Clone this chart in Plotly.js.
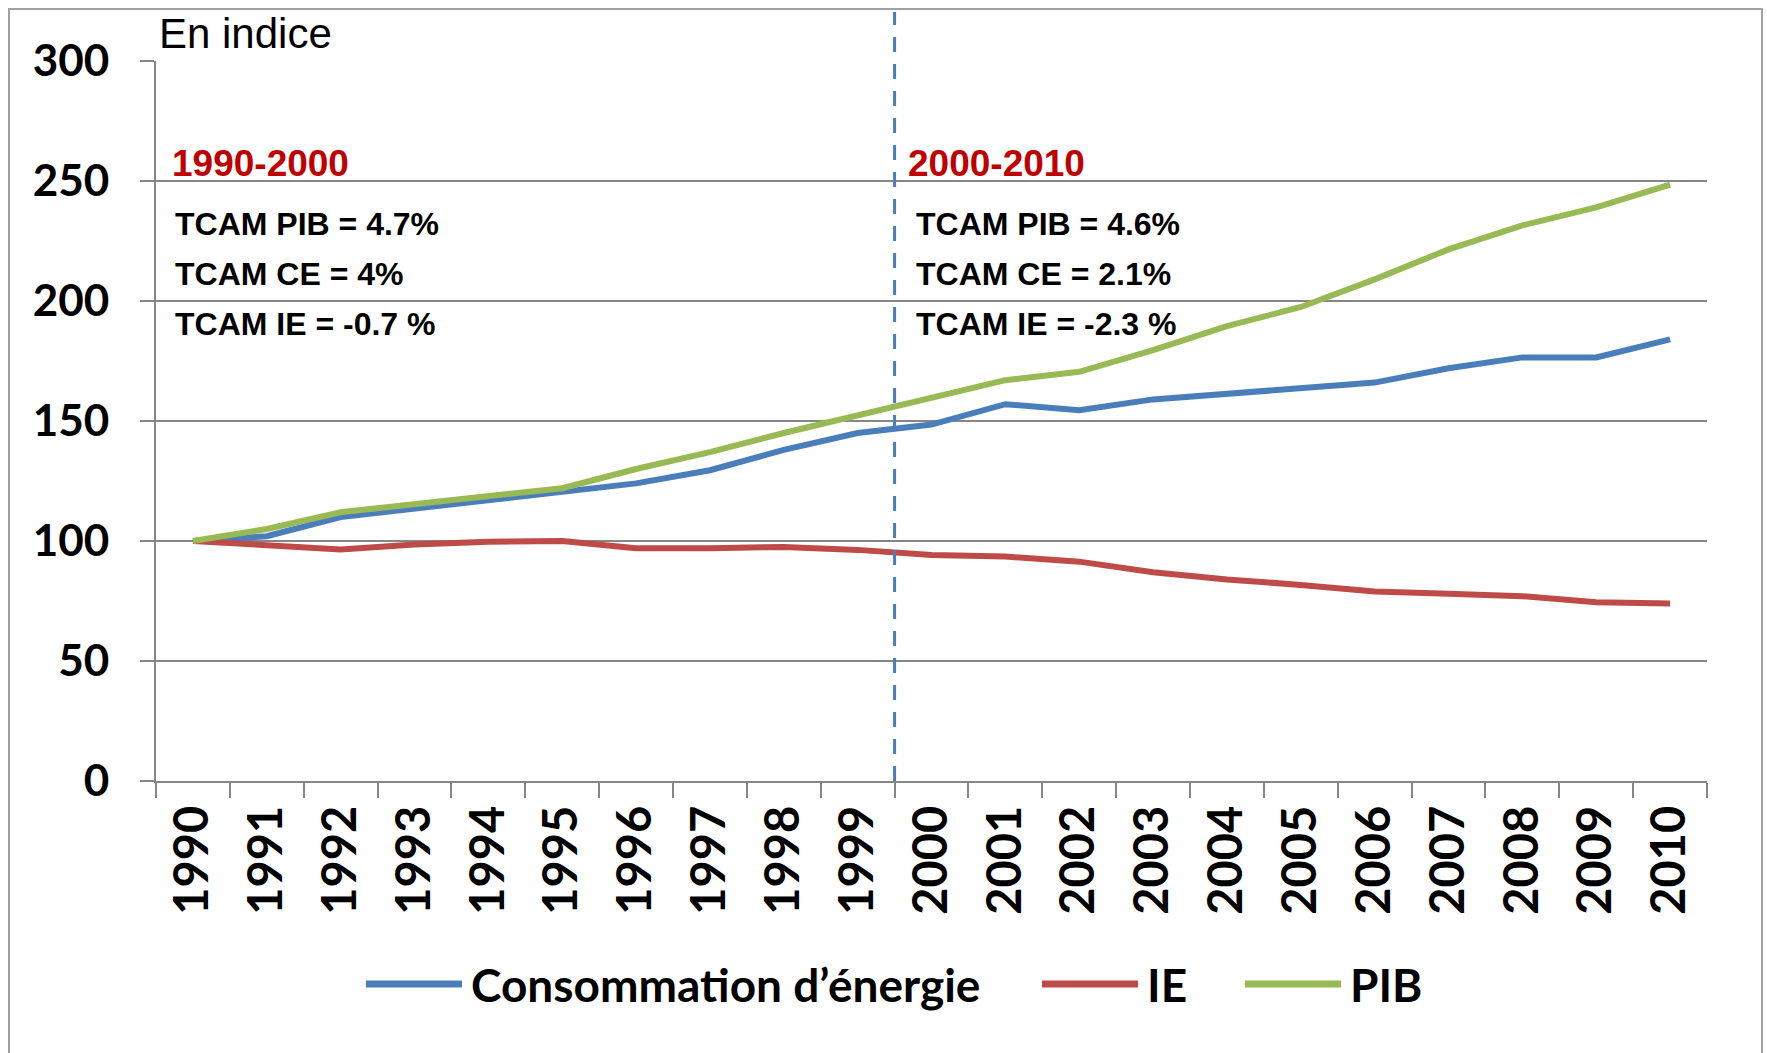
<!DOCTYPE html>
<html>
<head>
<meta charset="utf-8">
<script src="https://cdn.plot.ly/plotly-3.0.1.min.js"></script>
<style>
  body { margin: 0; background: #fff; }
  #chart { width: 1767px; height: 1053px; }
</style>
</head>
<body>
<div id="chart"></div>
<script>
// index base 100 in 1990
const years = ['1990', '1991', '1992', '1993', '1994', '1995', '1996', '1997', '1998', '1999', '2000',
               '2001', '2002', '2003', '2004', '2005', '2006', '2007', '2008', '2009', '2010'];
const consommation = [100, 102, 110, 113.5, 117, 120.5, 124, 129.5, 138, 145, 148.5,
                      157, 154.5, 159, 161.5, 163.5, 166, 172, 176.5, 176.5, 184];
const ie = [100, 98, 96.5, 98.5, 99.7, 100, 97, 97, 97.5, 96.3, 94.2,
            93.5, 91.4, 87, 84, 81.7, 79, 78, 77, 74.5, 74];
const pib = [100, 105, 112, 115.5, 118.5, 122, 130, 137, 145, 152.5, 160,
             167, 170.5, 179.5, 189.5, 197.5, 209, 221.5, 231.5, 239, 248.5];
const seriesNames = ['Consommation d\u2019énergie', 'IE', 'PIB'];
const seriesColors = ['#4a7ebb', '#be4b48', '#98b954'];

const periodLabels = ['1990-2000', '2000-2010'];
const tcamLeft = ['TCAM PIB = 4.7%', 'TCAM CE = 4%', 'TCAM IE = -0.7 %'];
const tcamRight = ['TCAM PIB = 4.6%', 'TCAM CE = 2.1%', 'TCAM IE = -2.3 %'];

// pixel -> paper helpers (plot area 156..1707 x 61..781)
const px = x => (x - 156) / 1551;
const py = y => (781 - y) / 720;

const allSeries = [consommation, ie, pib];
const traces = allSeries.map((vals, i) => ({
  type: 'scatter',
  mode: 'lines',
  name: seriesNames[i],
  x: years,
  y: vals,
  line: {color: seriesColors[i], width: 6},
  hoverinfo: 'x+y+name'
}));

const annotations = [];
annotations.push({
  text: 'En indice', xref: 'paper', yref: 'paper', x: px(157), y: py(34),
  xanchor: 'left', yanchor: 'middle', showarrow: false,
  font: {family: 'Liberation Sans, Arial', size: 42, color: '#000'}
});
[[periodLabels[0], 170, tcamLeft], [periodLabels[1], 906, tcamRight]].forEach(([lab, x0, lines]) => {
  annotations.push({
    text: lab, xref: 'paper', yref: 'paper', x: px(x0), y: py(163),
    xanchor: 'left', yanchor: 'middle', showarrow: false,
    font: {family: 'Liberation Sans, Arial', size: 37, color: '#c00000', weight: 'bold'}
  });
  lines.forEach((t, k) => {
    annotations.push({
      text: t, xref: 'paper', yref: 'paper', x: px(x0 + 3 + (x0 > 500 ? 5 : 0)), y: py(224 + k * 50),
      xanchor: 'left', yanchor: 'middle', showarrow: false,
      font: {family: 'Liberation Sans, Arial', size: 32, color: '#000', weight: 'bold'}
    });
  });
});

// legend built by hand, long line samples like the original
const legendX = [366, 1042, 1245];
const shapes = [];
seriesNames.forEach((n, i) => {
  shapes.push({
    type: 'line', xref: 'paper', yref: 'paper',
    x0: px(legendX[i]), x1: px(legendX[i] + 96), y0: py(984), y1: py(984),
    line: {color: seriesColors[i], width: 7}
  });
  annotations.push({
    text: n, xref: 'paper', yref: 'paper', x: px(legendX[i] + 103), y: py(984),
    xanchor: 'left', yanchor: 'middle', showarrow: false,
    font: {family: 'Lato', size: 46, color: '#000', weight: 'bold'}
  });
});

// dashed separator between 1999 and 2000
shapes.push({
  type: 'line', xref: 'x', yref: 'paper', x0: 9.5, x1: 9.5, y0: 0, y1: py(12),
  line: {color: '#4a7ebb', width: 3, dash: '15px,12px'}
});
// outer frame
shapes.push({
  type: 'rect', xref: 'paper', yref: 'paper',
  x0: px(9), x1: px(1762), y0: py(1070), y1: py(9),
  line: {color: '#a0a0a0', width: 2}, fillcolor: 'rgba(0,0,0,0)'
});

const layout = {
  width: 1767,
  height: 1053,
  margin: {l: 156, r: 60, t: 61, b: 272},
  paper_bgcolor: '#fff',
  plot_bgcolor: '#fff',
  showlegend: false,
  xaxis: {
    type: 'category',
    range: [-0.5, 20.5],
    tickson: 'boundaries',
    ticks: 'outside', ticklen: 15, tickwidth: 2, tickcolor: '#868686',
    showline: true, linecolor: '#868686', linewidth: 2,
    showgrid: false,
    tickangle: -90,
    ticklabelstandoff: 4,
    tickfont: {family: 'Lato', size: 47, color: '#000', weight: 'bold'}
  },
  yaxis: {
    range: [0, 300],
    tick0: 0, dtick: 50,
    ticks: 'outside', ticklen: 14, tickwidth: 2, tickcolor: '#868686',
    showline: true, linecolor: '#868686', linewidth: 2,
    showgrid: true, gridcolor: '#868686', gridwidth: 2,
    zeroline: false,
    ticklabelstandoff: 22,
    tickfont: {family: 'Lato', size: 44, color: '#000', weight: 'bold'}
  },
  annotations: annotations,
  shapes: shapes
};

Plotly.newPlot('chart', traces, layout, {displayModeBar: false, staticPlot: true});
</script>
</body>
</html>
